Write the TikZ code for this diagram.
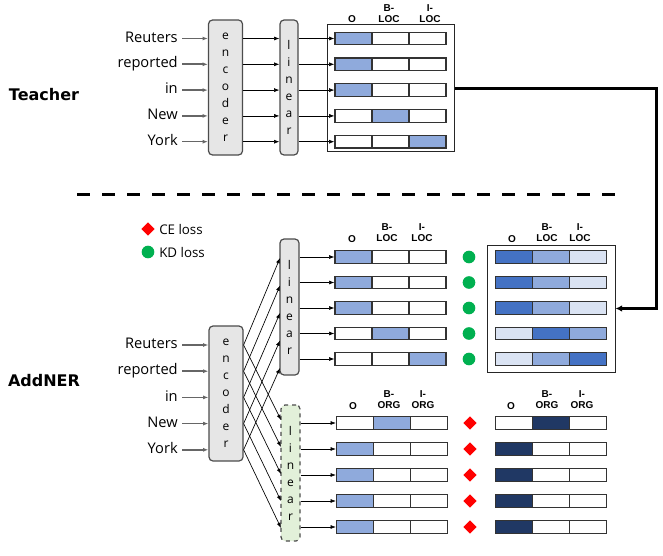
\documentclass[tikz,border=0pt]{standalone}
\usepackage{fontspec}
\setmainfont{Open Sans}
\newfontfamily\headfont{Liberation Sans}
\newfontfamily\titlefont{DejaVu Sans}
\usetikzlibrary{arrows.meta,shapes.geometric}

\definecolor{blueMid}{HTML}{8FAADC}
\definecolor{blueDark}{HTML}{4472C4}
\definecolor{blueLight}{HTML}{DAE3F3}
\definecolor{navy}{HTML}{203864}
\definecolor{boxGray}{HTML}{E6E6E6}
\definecolor{boxGreen}{HTML}{E2F0D9}
\definecolor{lossGreen}{HTML}{00B050}

\tikzset{
  word/.style={anchor=east, inner sep=0pt, text height=8pt, text depth=2.5pt, font=\fontsize{11}{13}\selectfont},
  block/.style={draw=black!70, fill=boxGray, rounded corners=3pt, line width=0.9pt, align=center, inner sep=0pt, font=\fontsize{9}{12.75}\selectfont},
  cell/.style={draw=black!80, line width=0.9pt, minimum width=27.75pt, minimum height=9.4pt, inner sep=0pt},
  head/.style={align=center, inner sep=0pt, font=\headfont\bfseries\fontsize{7.5}{8.25}\selectfont},
  outbox/.style={draw=black!85, line width=0.75pt, inner sep=0pt},
  arr/.style={-{Latex[length=4pt,width=3pt]}, line width=0.5pt},
  inarr/.style={arr, draw=black!60, line width=1.2pt},
  title/.style={font=\titlefont\bfseries\fontsize{12}{14}\selectfont},
  legend/.style={anchor=west, inner sep=0pt, font=\fontsize{10}{12}\selectfont},
  kd/.style={circle, fill=lossGreen, inner sep=0pt, minimum size=9.5pt},
  ce/.style={diamond, fill=red, inner sep=0pt, minimum size=10pt},
}

\begin{document}
\begin{tikzpicture}[x=0.75pt,y=-0.75pt]
\useasboundingbox (0,0) rectangle (663,556);

% teacher
\node[title] (teacher) at (44,95) {Teacher};
\node[block, minimum width=25.5pt, minimum height=101.25pt] (encT) at (225.5,87.5) {e\\n\\c\\o\\d\\e\\r};
\node[block, minimum width=13.5pt, minimum height=101.25pt] (linT) at (289,87.5) {l\\i\\n\\e\\a\\r};
\node[outbox, minimum width=95.25pt, minimum height=95.25pt] (boxT) at (390.5,88.5) {};
\node[head] (tO) at (352,19) {O};
\node[head] (tB) at (389,13.5) {B-\\LOC};
\node[head] (tI) at (430,13.5) {I-\\LOC};
\foreach \w/\fa/\fb/\fc [count=\i] in {Reuters/blueMid/white/white, reported/blueMid/white/white,
    in/blueMid/white/white, New/white/blueMid/white, York/white/white/blueMid} {
  \pgfmathsetmacro\ry{38.5+25.8*(\i-1)}
  \node[word] (tw\i) at (178,\ry) {\w};
  \node[cell, fill=\fa] (ta\i) at (353.5,\ry) {};
  \node[cell, fill=\fb] (tb\i) at (390.5,\ry) {};
  \node[cell, fill=\fc] (tc\i) at (427.5,\ry) {};
  \draw[inarr] ([xshift=3pt]tw\i.east) -- (tw\i -| encT.west);
  \draw[arr] (tw\i -| encT.east) -- (tw\i -| linT.west);
  \draw[arr] (tw\i -| linT.east) -- (ta\i.west);
}

\draw[line width=2.25pt, dash pattern=on 9.75pt off 9pt] (77,194) -- (615,194);

% legend
\node[ce] (ceM) at (148,229) {};
\node[legend] (ceL) at (159,229) {CE loss};
\node[kd] (kdM) at (148,252) {};
\node[legend] (kdL) at (159,252) {KD loss};

% student
\node[title] (addner) at (44,381) {AddNER};
\node[block, minimum width=25.5pt, minimum height=101.25pt] (encS) at (226,393.5) {e\\n\\c\\o\\d\\e\\r};
\node[block, minimum width=14.25pt, minimum height=102pt] (linU) at (289.5,307) {l\\i\\n\\e\\a\\r};
\node[block, fill=boxGreen, dashed, minimum width=14.25pt, minimum height=102pt] (linL) at (290.5,473) {l\\i\\n\\e\\a\\r};
\node[outbox, minimum width=96pt, minimum height=95.25pt] (boxS) at (551,308.5) {};

\node[head] (uO) at (352,239) {O};
\node[head] (uB) at (387,232.5) {B-\\LOC};
\node[head] (uI) at (422,232.5) {I-\\LOC};
\node[head] (kO) at (512,239) {O};
\node[head] (kB) at (547,232.5) {B-\\LOC};
\node[head] (kI) at (580,232.5) {I-\\LOC};
\node[head] (lO) at (353,406) {O};
\node[head] (lB) at (389,400) {B-\\ORG};
\node[head] (lI) at (423,400) {I-\\ORG};
\node[head] (gO) at (511,406) {O};
\node[head] (gB) at (547,400) {B-\\ORG};
\node[head] (gI) at (582,400) {I-\\ORG};

\foreach \w [count=\i] in {Reuters,reported,in,New,York} {
  \node[word] (sw\i) at (178,{345+26.2*(\i-1)}) {\w};
  \coordinate (uin\i) at (280,{258+27.5*(\i-1)});
  \coordinate (lin\i) at (281,{420+27*(\i-1)});
  \draw[inarr] ([xshift=3pt]sw\i.east) -- (sw\i -| encS.west);
  \draw[arr] (sw\i -| encS.east) -- (uin\i);
  \draw[arr] (sw\i -| encS.east) -- (lin\i);
}

% kd rows
\foreach \fa/\fb/\fc/\ka/\kb/\kc [count=\i] in {blueMid/white/white/blueDark/blueMid/blueLight,
    blueMid/white/white/blueDark/blueMid/blueLight, blueMid/white/white/blueDark/blueMid/blueLight,
    white/blueMid/white/blueLight/blueDark/blueMid, white/white/blueMid/blueLight/blueMid/blueDark} {
  \pgfmathsetmacro\ry{257+25.5*(\i-1)}
  \node[cell, fill=\fa] (ua\i) at (353.5,\ry) {};
  \node[cell, fill=\fb] (ub\i) at (390.5,\ry) {};
  \node[cell, fill=\fc] (uc\i) at (427.5,\ry) {};
  \node[kd] (kd\i) at (469,\ry) {};
  \node[cell, fill=\ka] (ka\i) at (514,\ry) {};
  \node[cell, fill=\kb] (kb\i) at (551,\ry) {};
  \node[cell, fill=\kc] (kc\i) at (588,\ry) {};
  \draw[arr] (ua\i -| linU.east) -- (ua\i.west);
}

% ce rows
\foreach \fa/\fb/\ga/\gb [count=\i] in {white/blueMid/white/navy, blueMid/white/navy/white,
    blueMid/white/navy/white, blueMid/white/navy/white, blueMid/white/navy/white} {
  \pgfmathsetmacro\ry{423+26*(\i-1)}
  \node[cell, fill=\fa] (la\i) at (355,\ry) {};
  \node[cell, fill=\fb] (lb\i) at (392,\ry) {};
  \node[cell] (lc\i) at (429,\ry) {};
  \node[ce] (ce\i) at (470,\ry) {};
  \node[cell, fill=\ga] (ga\i) at (514,\ry) {};
  \node[cell, fill=\gb] (gb\i) at (551,\ry) {};
  \node[cell] (gc\i) at (588,\ry) {};
  \draw[arr] (la\i -| linL.east) -- (la\i.west);
}

% teacher to kd targets
\coordinate (bend) at (656,88.5);
\draw[line width=2.25pt, -{Latex[length=5pt,width=5pt]}] (boxT.east) -- (bend) |- (boxS.east);
\end{tikzpicture}
\end{document}
